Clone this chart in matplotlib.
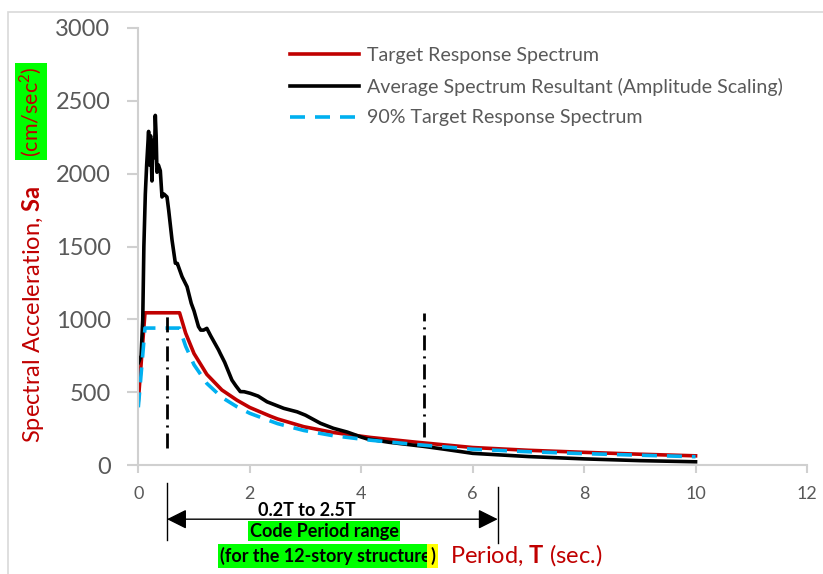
import matplotlib.pyplot as plt
from matplotlib.patches import Rectangle

plt.rcParams['font.family'] = ['Lato', 'DejaVu Sans']
plt.rcParams['mathtext.fontset'] = 'custom'
plt.rcParams['mathtext.rm'] = 'Lato'
plt.rcParams['mathtext.bf'] = 'Lato:bold'
plt.rcParams['lines.scale_dashes'] = False

W, H = 823, 574

# target response spectrum
period_target = [0, 0.12, 0.74, 0.85, 1.0, 1.23, 1.5, 1.77, 2.0, 2.37, 2.5, 2.97,
                 3.5, 4.17, 5.0, 6.0, 7.0, 8.0, 9.0, 10.0]
sa_target = [440, 1045, 1045, 905, 765, 622, 515, 445, 395, 335, 316, 263,
             223, 189, 156, 120, 101, 87, 74, 63]

# 90% of target
period_90 = [0, 0.12, 0.74, 0.85, 1.0, 1.23, 1.5, 1.77, 2.0, 2.37, 2.5, 2.97,
             3.5, 4.17, 5.0, 6.0, 7.0, 8.0, 9.0, 10.0]
sa_90 = [396, 940, 940, 815, 688, 560, 464, 400, 355, 302, 284, 237,
         201, 170, 140, 108, 91, 78, 67, 57]

# average spectrum resultant (amplitude scaling)
period_avg = [0, 0.05, 0.08, 0.1, 0.126, 0.15, 0.185, 0.2, 0.22, 0.245, 0.26,
              0.275, 0.29, 0.305, 0.32, 0.335, 0.36, 0.395, 0.425, 0.46, 0.515,
              0.545, 0.605, 0.665, 0.7, 0.785, 0.875, 0.95, 1.0, 1.08, 1.12,
              1.17, 1.23, 1.3, 1.44, 1.47, 1.55, 1.68, 1.75, 1.83, 1.9, 2.01,
              2.15, 2.31, 2.45, 2.61, 2.85, 3.0, 3.27, 3.5, 3.75, 4.0, 4.1,
              4.5, 5.12, 5.5, 6.0, 7.0, 8.0, 9.0, 10.0]
sa_avg = [700, 750, 1000, 1500, 1860, 2060, 2290, 2060, 2260, 1950, 2160,
          2230, 2110, 2400, 2260, 2010, 2060, 2020, 1840, 1860, 1840,
          1750, 1545, 1385, 1384, 1293, 1224, 1110, 1058, 950, 926,
          926, 938, 886, 790, 766, 705, 583, 544, 504, 503, 492,
          473, 434, 413, 389, 365, 342, 286, 252, 226, 192, 180,
          156, 128, 108, 80, 58, 42, 30, 22]

# period markers
t_fund = 2.58
range_lo = 0.2 * t_fund
range_hi = 2.5 * t_fund
marker_t = [0.516, 5.12]
marker_top = [1045, 1045]
marker_bot = [116, 190]

red = '#C00000'
blue = '#00B0F0'
grey = '#595959'
axis_grey = '#D0D0D0'

fig = plt.figure(figsize=(W / 100, H / 100), dpi=100)
ax = fig.add_axes([138.3 / W, 109 / H, 668.7 / W, 437 / H])

# outer chart border (left/top visible)
fig.add_artist(Rectangle((8 / W, -0.1), 1.2, 1 - 12 / H + 0.1, transform=fig.transFigure,
                         fill=False, ec='#D9D9D9', lw=1.2))

ax.plot(period_target, sa_target, color=red, lw=2.6, label='Target Response Spectrum')
ax.plot(period_avg, sa_avg, color='black', lw=2.6,
        label='Average Spectrum Resultant (Amplitude Scaling)')
ax.plot(period_90, sa_90, color=blue, lw=2.6, ls=(0, (10.8, 7.2)),
        label='90% Target Response Spectrum')

for t, top, bot in zip(marker_t, marker_top, marker_bot):
    ax.plot([t, t], [bot, top], color='black', lw=2, ls=(0, (10.8, 4.3, 1.5, 4.3)))

ax.set_xlim(0, 12)
ax.set_ylim(0, 3000)
ax.set_xticks(range(0, 13, 2))
ax.set_yticks(range(0, 3001, 500))
for s in ['top', 'right']:
    ax.spines[s].set_visible(False)
for s in ['left', 'bottom']:
    ax.spines[s].set_color(axis_grey)
    ax.spines[s].set_linewidth(1.5)
ax.tick_params(axis='x', colors=axis_grey, labelcolor=grey, labelsize=13,
               length=6, width=1.5, pad=9)
ax.tick_params(axis='y', colors=axis_grey, labelcolor=grey, labelsize=17,
               length=8, width=1.5, pad=12)

ax.legend(loc='upper left', bbox_to_anchor=(290 / W, 1 - 47 / H),
          bbox_transform=fig.transFigure, frameon=False, fontsize=14.1,
          labelcolor=grey, handlelength=3.5, handletextpad=0.45,
          labelspacing=0.7, borderpad=0, borderaxespad=0)

# code period range annotation below the axis
tr = ax.get_xaxis_transform()
ax.plot([range_lo, range_lo], [-0.041, -0.172], color='black', lw=1, transform=tr, clip_on=False)
ax.plot([range_hi, range_hi], [-0.050, -0.178], color='black', lw=1, transform=tr, clip_on=False)
ax.annotate('', xy=(range_hi, -0.124), xytext=(range_lo, -0.124), xycoords=tr,
            textcoords=tr, annotation_clip=False,
            arrowprops=dict(arrowstyle='<|-|>,head_length=0.6,head_width=0.3',
                            mutation_scale=20, color='black', lw=1, shrinkA=0, shrinkB=0))

fig.text(307 / W, 1 - 510 / H, '0.2T to 2.5T', fontsize=13, fontweight='bold',
         ha='center', va='center')
fig.text(324 / W, 1 - 531 / H, 'Code Period range', fontsize=13, fontweight='bold',
         ha='center', va='center',
         bbox=dict(boxstyle='square,pad=0.1', fc='#00FF00', ec='none'))
fig.text(431 / W, 1 - 556 / H, '(for the 12-story structure', fontsize=13,
         fontweight='bold', ha='right', va='center',
         bbox=dict(boxstyle='square,pad=0.15', fc='#00FF00', ec='none'))
fig.text(430 / W, 1 - 556 / H, ')', fontsize=13, fontweight='bold', ha='left',
         va='center', bbox=dict(boxstyle='square,pad=0.15', fc='#FFFF00', ec='none'))

fig.text(450 / W, 1 - 563 / H, r'Period, $\mathbf{T}$ (sec.)', fontsize=17, color=red,
         ha='left', va='baseline')

# y label
fig.text(33 / W, 1 - 443 / H, r'Spectral Acceleration, $\mathbf{Sa}$', fontsize=17,
         color=red, rotation=90, ha='center', va='bottom')
fig.text(31 / W, 1 - 157 / H, r'(cm/sec$^{2}$)', fontsize=15.5, color=red,
         rotation=90, ha='center', va='bottom',
         bbox=dict(boxstyle='square,pad=0.15', fc='#00FF00', ec='none'))

fig.savefig('out.png', dpi=100)
